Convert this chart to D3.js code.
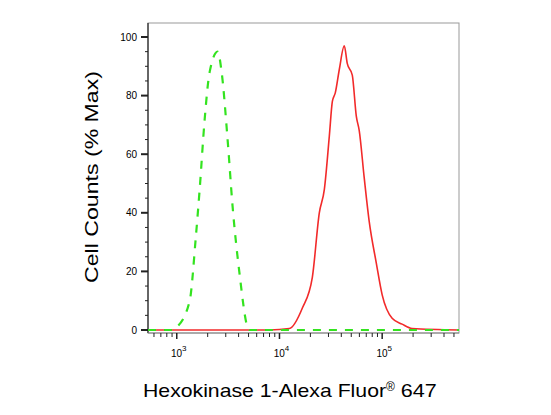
<!DOCTYPE html>
<html><head><meta charset="utf-8">
<script src="https://cdn.jsdelivr.net/npm/d3@7"></script>
<style>body{margin:0;background:#fff}</style></head>
<body><svg id="c" width="551" height="415"></svg>
<script>
const greenLog = [2.72,2.951,3.0,3.126,3.184,3.223,3.272,3.320,3.398,3.437,3.495,3.544,3.612,3.689,3.709,5.748];
const greenVal = [0,0,1,10,31,48,72,88,95,88,65,42,19,1,0,0];
const redLog = [2.72,3.903,4.097,4.223,4.320,4.388,4.437,4.485,4.515,4.544,4.583,4.631,4.660,4.709,4.748,4.777,4.825,4.874,4.942,5.0,5.097,5.194,5.291,5.748];
const redVal = [0,0,0.5,7.5,18,40,48,66,78,81,89,97,91,87,73,68,52,37,23,12,4,2,0.5,0];
const yTicks = [0,20,40,60,80,100];
const xDecades = [3,4,5];

const svg = d3.select("#c");
const L=148,R=459,T=23,B=333;
const x = d3.scaleLinear().domain([2.72,5.748]).range([L,R]);
const y = d3.scaleLinear().domain([0,100]).range([330,37]);
const font="Liberation Sans, Arial, sans-serif";

svg.append("rect").attr("x",L).attr("y",T).attr("width",R-L).attr("height",B-T)
  .attr("fill","none").attr("stroke","#999");

const yg = svg.append("g");
d3.range(0,101,5).forEach(v=>{
  const major = v%20===0;
  yg.append("line").attr("x1",L-(major?7:3)).attr("x2",L).attr("y1",y(v)).attr("y2",y(v))
    .attr("stroke","#222").attr("stroke-width",major?2:1);
});
yTicks.forEach(v=>{
  yg.append("text").attr("x",L-11).attr("y",y(v)+3.5).attr("text-anchor","end")
    .attr("font-family",font).attr("font-size",10).text(v);
});
svg.append("line").attr("x1",L).attr("x2",L).attr("y1",T).attr("y2",B).attr("stroke","#222").attr("stroke-width",1.2);
svg.append("line").attr("x1",L).attr("x2",R).attr("y1",B).attr("y2",B).attr("stroke","#888").attr("stroke-width",1.2);

const xg = svg.append("g");
[2,3,4,5].forEach(d=>{
  for(let m=1;m<10;m++){
    const lv = d+Math.log10(m);
    if(lv<2.72||lv>5.748) continue;
    const major = m===1;
    xg.append("line").attr("x1",x(lv)).attr("x2",x(lv)).attr("y1",B).attr("y2",B+(major?6:4))
      .attr("stroke","#222").attr("stroke-width",major?1.5:1);
  }
});
xDecades.forEach(d=>{
  const t = xg.append("text").attr("x",x(d)+2).attr("y",B+24).attr("text-anchor","middle")
    .attr("font-family",font).attr("font-size",10);
  t.append("tspan").text("10");
  t.append("tspan").attr("dy",-6).attr("font-size",8).text(d);
});

const line = d3.line().x(d=>x(d[0])).y(d=>y(d[1])).curve(d3.curveMonotoneX);
svg.append("path").datum(redLog.map((v,i)=>[v,redVal[i]])).attr("d",line)
  .attr("fill","none").attr("stroke","#f22a2a").attr("stroke-width",1.6);
svg.append("path").datum(greenLog.map((v,i)=>[v,greenVal[i]])).attr("d",line)
  .attr("fill","none").attr("stroke","#33e31f").attr("stroke-width",2.2).attr("stroke-dasharray","8,8");

svg.append("text").attr("transform","translate(98,177) rotate(-90)").attr("text-anchor","middle")
  .attr("font-family",font).attr("font-size",19).attr("textLength",212).attr("lengthAdjust","spacingAndGlyphs")
  .text("Cell Counts (% Max)");
const xl = svg.append("text").attr("x",143).attr("y",397)
  .attr("font-family",font).attr("font-size",19);
xl.append("tspan").attr("textLength",243).attr("lengthAdjust","spacingAndGlyphs").text("Hexokinase 1-Alexa Fluor");
xl.append("tspan").attr("dy",-6).attr("font-size",12).text("®");
xl.append("tspan").attr("dy",6).attr("textLength",42).attr("lengthAdjust","spacingAndGlyphs").text(" 647");
</script></body></html>
